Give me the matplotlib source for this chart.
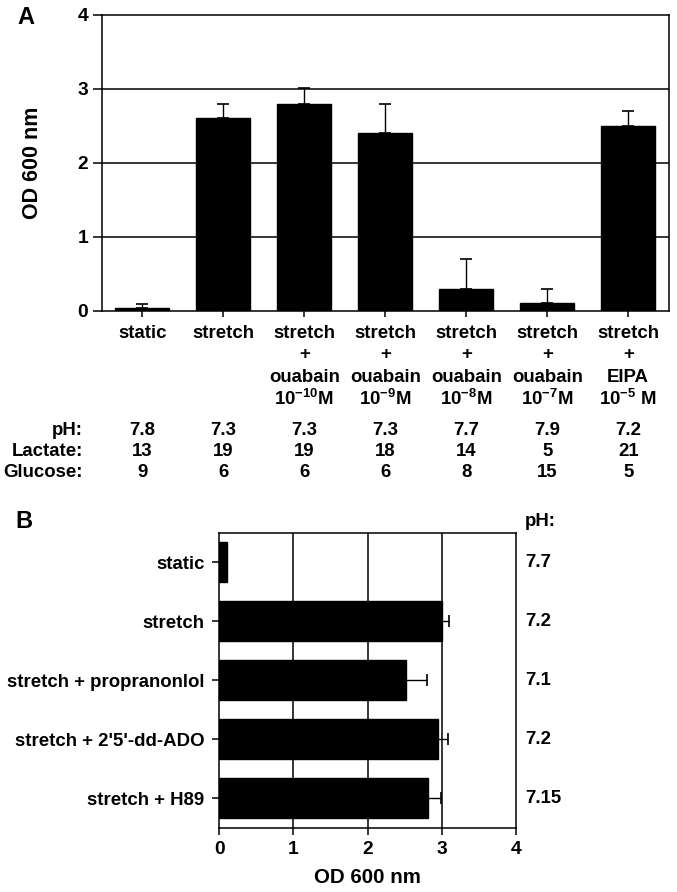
import matplotlib
matplotlib.use("Agg")
import matplotlib.pyplot as plt
import matplotlib.transforms as mtransforms

plt.rcParams['font.family'] = ['Liberation Sans', 'DejaVu Sans']
plt.rcParams['font.weight'] = 'bold'
plt.rcParams['mathtext.fontset'] = 'custom'
plt.rcParams['mathtext.rm'] = 'Liberation Sans:bold'
plt.rcParams['mathtext.bf'] = 'Liberation Sans:bold'
plt.rcParams['mathtext.it'] = 'Liberation Sans:bold'
plt.rcParams['mathtext.default'] = 'regular'

# ---------------- Panel A data ----------------
a_label_lines = [
    ["static"],
    ["stretch"],
    ["stretch", "+", "ouabain", "10$^{-10}$M"],
    ["stretch", "+", "ouabain", "10$^{-9}$M"],
    ["stretch", "+", "ouabain", "10$^{-8}$M"],
    ["stretch", "+", "ouabain", "10$^{-7}$M"],
    ["stretch", "+", "EIPA", "10$^{-5}$ M"],
]
a_means = [0.04, 2.60, 2.80, 2.40, 0.30, 0.10, 2.50]
a_errs = [0.05, 0.20, 0.21, 0.40, 0.40, 0.20, 0.20]
a_yticks = [0, 1, 2, 3, 4]
a_row_names = ["pH:", "Lactate:", "Glucose:"]
a_ph = ["7.8", "7.3", "7.3", "7.3", "7.7", "7.9", "7.2"]
a_lactate = ["13", "19", "19", "18", "14", "5", "21"]
a_glucose = ["9", "6", "6", "6", "8", "15", "5"]

# ---------------- Panel B data ----------------
b_categories = ["static", "stretch", "stretch + propranonlol",
                "stretch + 2'5'-dd-ADO", "stretch + H89"]
b_means = [0.11, 3.01, 2.52, 2.95, 2.82]
b_errs = [0.0, 0.09, 0.28, 0.13, 0.17]
b_ph = ["7.7", "7.2", "7.1", "7.2", "7.15"]
b_xticks = [0, 1, 2, 3, 4]

W, H = 677, 892
fig = plt.figure(figsize=(W / 100, H / 100), dpi=100)

FS = 13.4
LW = 1.1


def px_axes(l, t, r, b):
    return fig.add_axes([l / W, 1 - b / H, (r - l) / W, (b - t) / H])


# ================= Panel A =================
axA = px_axes(101.7, 14.7, 668.7, 310.7)
xA = list(range(len(a_means)))
axA.bar(xA, a_means, width=0.67, color='black', edgecolor='black', zorder=3)
axA.errorbar(xA, a_means, yerr=[[0] * len(a_errs), a_errs], fmt='none',
             ecolor='black', elinewidth=1.0, capsize=4, capthick=1.2, zorder=4)
axA.set_xlim(-0.5, len(a_means) - 0.5)
axA.set_ylim(0, 4)
axA.set_yticks(a_yticks)
axA.set_yticklabels([str(v) for v in a_yticks], fontsize=FS + 0.5, fontweight='bold')
axA.set_xticks(xA)
axA.set_xticklabels([])
for yv in [1, 2, 3]:
    axA.axhline(yv, color='black', lw=LW, zorder=1)
for s in axA.spines.values():
    s.set_linewidth(LW)
axA.tick_params(axis='y', direction='out', length=6.3, width=LW, pad=3.5)
axA.tick_params(axis='x', direction='out', length=4.3, width=LW)
axA.set_ylabel("OD 600 nm", fontsize=15.5, fontweight='bold')
axA.yaxis.set_label_coords(-0.103, 0.5)

transA = mtransforms.blended_transform_factory(axA.transData, axA.transAxes)
line_y_px = [333, 355, 377, 399]
for i, lines in enumerate(a_label_lines):
    for j, txt in enumerate(lines):
        yfrac = (310.7 - line_y_px[j]) / 296.0
        axA.text(i, yfrac, txt, transform=transA, ha='center', va='center',
                 fontsize=FS, fontweight='bold', clip_on=False)

row_y_px = [430, 451, 472]
rows = [a_ph, a_lactate, a_glucose]
for r, (name, vals) in enumerate(zip(a_row_names, rows)):
    yfrac = (310.7 - row_y_px[r]) / 296.0
    axA.text((83 - 101.7) / 567.0, yfrac, name, transform=axA.transAxes,
             ha='right', va='center', fontsize=FS, fontweight='bold')
    for i, v in enumerate(vals):
        axA.text(i, yfrac, v, transform=transA, ha='center', va='center',
                 fontsize=FS, fontweight='bold')

fig.text(17 / W, 1 - 18 / H, "A", fontsize=17, fontweight='bold',
         ha='left', va='center')

# ================= Panel B =================
axB = px_axes(219.3, 532.7, 515.7, 827.7)
yB = list(range(len(b_means)))
axB.barh(yB, b_means, height=0.68, color='black', edgecolor='black', zorder=3)
axB.errorbar(b_means, yB, xerr=[[0] * len(b_errs), b_errs], fmt='none',
             ecolor='black', elinewidth=1.0, capsize=4, capthick=1.2, zorder=4)
axB.set_xlim(0, 4)
axB.set_ylim(len(b_means) - 0.5, -0.5)
axB.set_yticks(yB)
axB.set_yticklabels(b_categories, fontsize=FS, fontweight='bold')
axB.set_xticks(b_xticks)
axB.set_xticklabels([str(v) for v in b_xticks], fontsize=FS + 0.5, fontweight='bold')
for xv in [1, 2, 3]:
    axB.axvline(xv, color='black', lw=LW, zorder=1)
for s in axB.spines.values():
    s.set_linewidth(LW)
axB.tick_params(axis='y', direction='out', length=5.3, width=LW, pad=5.3)
axB.tick_params(axis='x', direction='out', length=5, width=LW, pad=4.5)
axB.set_xlabel("OD 600 nm", fontsize=14.8, fontweight='bold')
axB.xaxis.set_label_coords(0.5, (827.7 - 868) / 295.0)

transB = mtransforms.blended_transform_factory(axB.transAxes, axB.transData)
xph = (525 - 219.3) / 296.4
axB.text(xph, (827.7 - 521) / 295.0, "pH:", transform=axB.transAxes,
         ha='left', va='center', fontsize=FS, fontweight='bold')
for i, v in enumerate(b_ph):
    axB.text(xph, i, v, transform=transB, ha='left', va='center',
             fontsize=FS, fontweight='bold')

fig.text(15 / W, 1 - 522 / H, "B", fontsize=17, fontweight='bold',
         ha='left', va='center')

fig.savefig("out.png", dpi=100)
